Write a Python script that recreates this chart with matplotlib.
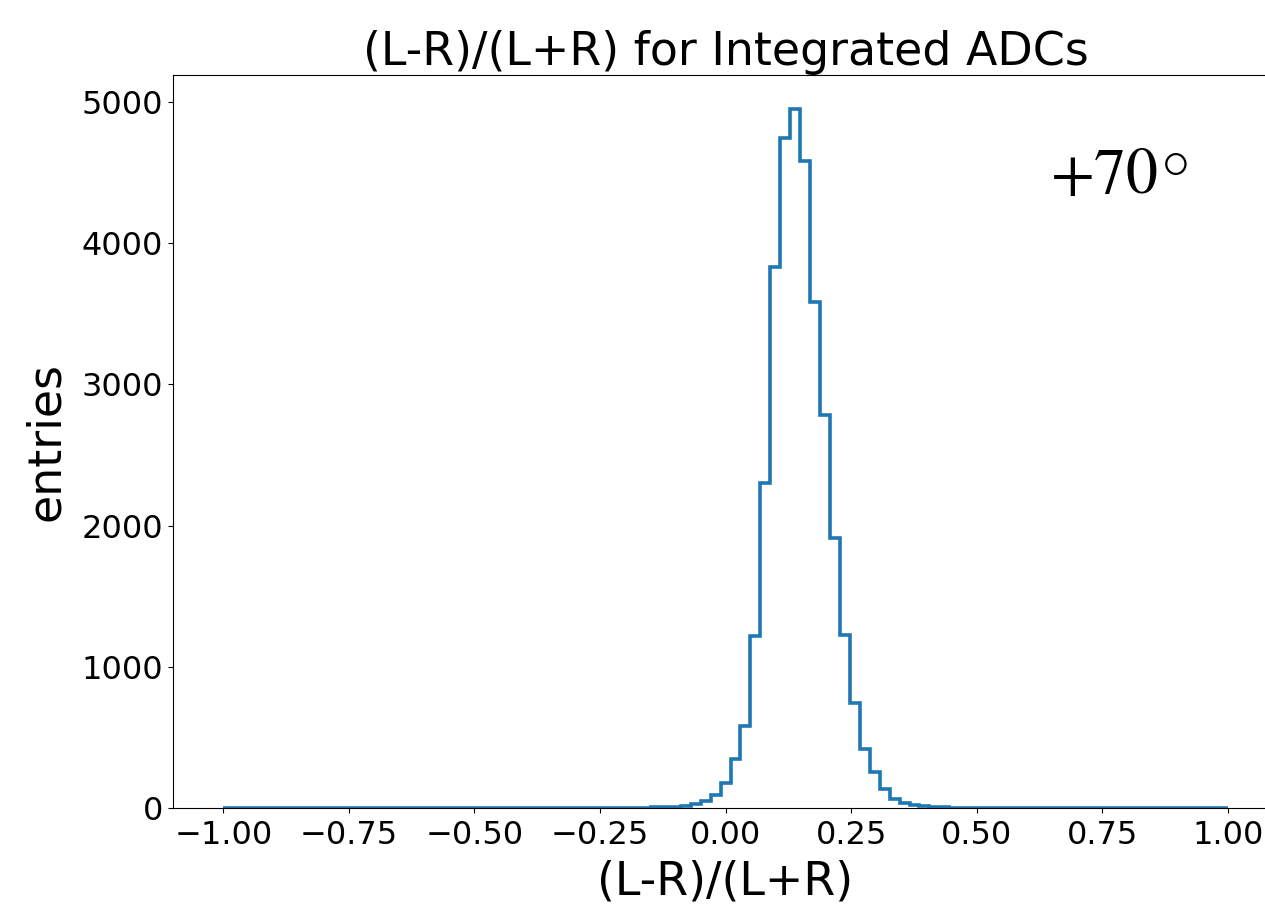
import numpy as np
import matplotlib
matplotlib.use("Agg")
import matplotlib.pyplot as plt

# Histogram: 101 bins over [-1, 1]
n_bins = 101
x_range = (-1.0, 1.0)
# counts for bins index 43..72 (all others are zero)
first_bin = 43
tail_counts = [5, 8, 9, 12, 25, 48, 95, 178, 346, 584, 1216, 2304, 3834,
               4744, 4950, 4582, 3582, 2782, 1915, 1226, 744, 415, 252,
               135, 62, 33, 20, 13, 9, 5]

xticks = [-1.00, -0.75, -0.50, -0.25, 0.00, 0.25, 0.50, 0.75, 1.00]
yticks = [0, 1000, 2000, 3000, 4000, 5000]

counts = np.zeros(n_bins)
counts[first_bin:first_bin + len(tail_counts)] = tail_counts
edges = np.linspace(x_range[0], x_range[1], n_bins + 1)

fig = plt.figure(figsize=(12.65, 9.05), dpi=100)
ax = fig.add_axes([0.1368, 0.1072, 0.8735, 0.8099])
ax.hist(edges[:-1], bins=edges, weights=counts, histtype='step',
        color='#1f77b4', linewidth=2.6)
ax.set_xlim(-1.1, 1.1)
ax.set_ylim(0, 5190)
ax.spines['right'].set_visible(False)
ax.set_xticks(xticks)
ax.set_xticklabels([f"{t:.2f}".replace('-', '\u2212') for t in xticks])
ax.set_yticks(yticks)
ax.tick_params(labelsize=23)
ax.tick_params(axis='x', pad=5.5)
ax.set_xlabel('(L-R)/(L+R)', fontsize=33, labelpad=6)
ax.set_ylabel('entries', fontsize=33, labelpad=9)
ax.set_title('(L-R)/(L+R) for Integrated ADCs', fontsize=33)
t1 = ax.text(0.794, 0.839, r'$+70$', transform=ax.transAxes,
             fontsize=46, va='baseline', math_fontfamily='stix')
ax.annotate(r'$\circ$', xy=(1.0, 1.0), xycoords=t1, xytext=(1.5, 7.5),
            textcoords='offset points', ha='left', va='top',
            fontsize=40, math_fontfamily='cm')
fig.savefig('out.png', dpi=100)
